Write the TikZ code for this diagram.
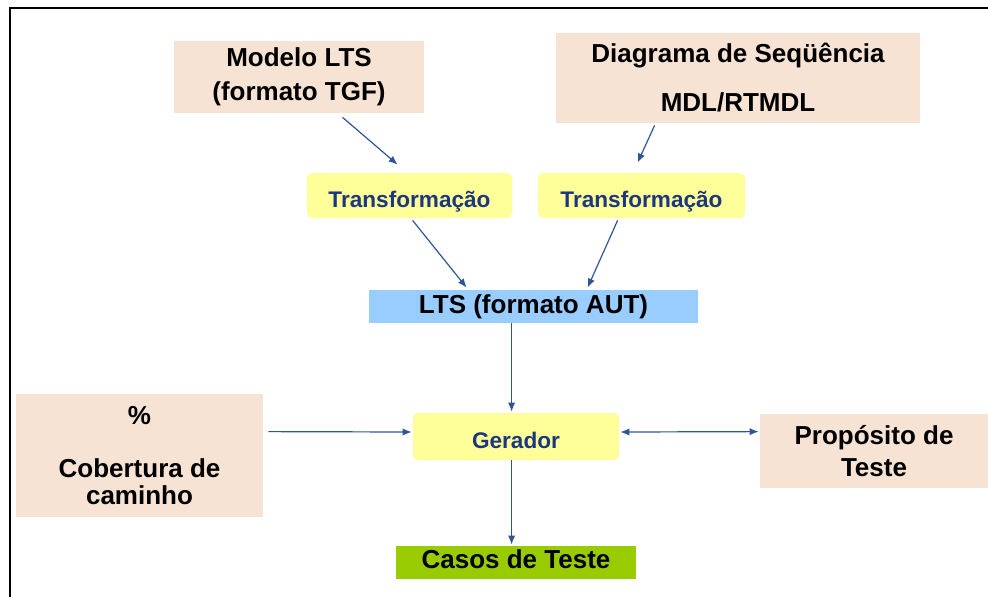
\documentclass[tikz,border=0pt]{standalone}
\usepackage{fontspec}
\setmainfont{Liberation Sans}
\usetikzlibrary{arrows.meta,calc}
\definecolor{peach}{RGB}{247,227,212}
\definecolor{pale}{RGB}{255,255,153}
\definecolor{sky}{RGB}{153,204,255}
\definecolor{lime}{RGB}{153,204,0}
\definecolor{navytxt}{RGB}{28,55,125}
\definecolor{arrowblue}{RGB}{47,85,151}
\begin{document}
\begin{tikzpicture}[x=0.5pt,y=-0.5pt,
  bigtxt/.style={font=\fontsize{13}{15}\selectfont\bfseries},
  smalltxt/.style={font=\fontsize{11.3}{13}\selectfont\bfseries, text=navytxt},
  peachbox/.style={fill=peach, draw=none, bigtxt, align=center, inner sep=0pt},
  ybox/.style={fill=pale, draw=none, rounded corners=2.5pt, smalltxt, inner sep=0pt, text height=11.6pt, text depth=0pt},
  arr/.style={draw=arrowblue, line width=0.6pt, -{Latex[length=4.5pt,width=3.6pt]}},
  dblarr/.style={draw=arrowblue, line width=0.6pt, {Latex[length=4.5pt,width=3.6pt]}-{Latex[length=4.5pt,width=3.6pt]}},
]
\useasboundingbox (0,0) rectangle (988,596);
% frame
\draw[line width=1.25pt] (10,597) -- (10,8) -- (989,8);

% boxes
\node[peachbox, minimum width=125pt, minimum height=36pt] (modelo) at (299,77)
  {Modelo LTS\\[2pt](formato TGF)};
\node[peachbox, minimum width=182pt, minimum height=45pt] (diag) at (738,78)
  {Diagrama de Seqüência\\[9.5pt]MDL/RTMDL};
\node[ybox, minimum width=102.5pt, minimum height=22.5pt] (t1) at (409.5,195.5) {Transformação};
\node[ybox, minimum width=103.5pt, minimum height=22.5pt] (t2) at (641.5,195.5) {Transformação};
\node[fill=sky, bigtxt, inner sep=0pt, minimum width=164.5pt, minimum height=16.5pt] (lts) at (533.5,306.5) {LTS (formato AUT)};
\node[ybox, minimum width=103pt, minimum height=23.5pt] (ger) at (516,436.5) {Gerador};
\node[fill=lime, bigtxt, inner sep=0pt, minimum width=120pt, minimum height=16.5pt, text height=9.5pt, text depth=3.7pt] (casos) at (516,562.5) {Casos de Teste};
\node[peachbox, minimum width=123.5pt, minimum height=61.5pt] (cob) at (139.5,455.5)
  {\%\\[11.5pt]Cobertura de\\[-1.5pt]caminho};
\node[peachbox, minimum width=114pt, minimum height=37pt] (prop) at (874,451)
  {Propósito de\\[1pt]Teste};

% connectors
\draw[arr] ($(modelo.south west)+(169,4)$) -- ($(t1.north west)+(91,-8)$);
\draw[arr] ($(diag.south west)+(99,2)$) -- ($(t2.north west)+(100,-10)$);
\draw[arr] ($(t1.south west)+(106,2)$) -- ($(lts.north west)+(98,-2)$);
\draw[arr] ($(t2.south west)+(80,2)$) -- ($(lts.north west)+(219,-2)$);
\draw[arr] ($(lts.south west)+(143,0)$) -- ($(ger.north west)+(99,-1)$);
\draw[arr] ($(cob.north east)+(5,38)$) -- ($(ger.west)+(-1,-4.5)$);
\draw[dblarr] ($(ger.east)+(1,-4.5)$) -- ($(prop.north west)+(-1,18)$);
\draw[arr] ($(ger.south west)+(99,0)$) -- ($(casos.north west)+(116,-1)$);
\end{tikzpicture}
\end{document}
